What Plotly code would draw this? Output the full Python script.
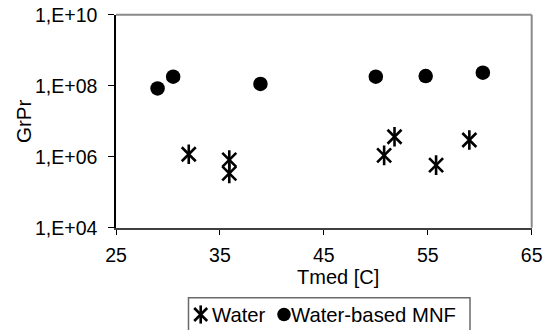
import plotly.graph_objects as go

# Mean temperature [C] and Grashof*Prandtl product for each fluid
water_t = [32.0, 35.9, 35.9, 50.8, 51.8, 55.8, 59.0]
water_grpr = [1.17e6, 8.1e5, 3.4e5, 1.09e6, 3.65e6, 5.8e5, 2.95e6]

mnf_t = [29.0, 30.5, 38.9, 50.0, 54.8, 60.3]
mnf_grpr = [8.4e7, 1.8e8, 1.12e8, 1.8e8, 1.87e8, 2.32e8]

y_tickvals = [1e4, 1e6, 1e8, 1e10]
y_ticktext = ["1,E+04", "1,E+06", "1,E+08", "1,E+10"]
x_tickvals = [25, 35, 45, 55, 65]

series_names = ["Water", "Water-based MNF"]

W, H = 547, 330
FONT = "Liberation Sans, Arial, sans-serif"

# plot-area box in pixels
PL, PR, PT, PB = 116, 531.7, 14.7, 227.7

fig = go.Figure()

star_line = dict(color="black", width=2.6)
STAR = 14
# star marker = X + vertical bar
fig.add_trace(go.Scatter(x=water_t, y=water_grpr, mode="markers", showlegend=False,
                         marker=dict(symbol="x-thin-open", size=STAR, line=star_line, color="black")))
fig.add_trace(go.Scatter(x=water_t, y=water_grpr, mode="markers", showlegend=False,
                         marker=dict(symbol="line-ns-open", size=STAR, line=star_line, color="black")))
fig.add_trace(go.Scatter(x=mnf_t, y=mnf_grpr, mode="markers", showlegend=False,
                         marker=dict(symbol="circle", size=14.5, color="black", line=dict(width=0))))

# legend keys drawn on a pixel-space overlay axis
fig.add_trace(go.Scatter(x=[200.7], y=[314.5], xaxis="x2", yaxis="y2", mode="markers", showlegend=False,
                         marker=dict(symbol="x-thin-open", size=STAR - 1, line=star_line, color="black")))
fig.add_trace(go.Scatter(x=[200.7], y=[314.5], xaxis="x2", yaxis="y2", mode="markers", showlegend=False,
                         marker=dict(symbol="line-ns-open", size=STAR - 1, line=star_line, color="black")))
fig.add_trace(go.Scatter(x=[284], y=[314.5], xaxis="x2", yaxis="y2", mode="markers", showlegend=False,
                         marker=dict(symbol="circle", size=13.5, color="black", line=dict(width=0))))

tick_font = dict(family=FONT, size=19.5, color="black")

fig.update_layout(
    width=W, height=H,
    margin=dict(l=0, r=0, t=0, b=0, autoexpand=False),
    paper_bgcolor="white", plot_bgcolor="rgba(0,0,0,0)",
    showlegend=False,
    xaxis=dict(
        domain=[PL / W, PR / W], range=[25, 65], tickvals=x_tickvals, anchor="y",
        ticks="outside", ticklen=5, tickwidth=1, tickcolor="black",
        showline=True, linecolor="#404040", linewidth=2,
        showgrid=False, zeroline=False, tickfont=tick_font,
        ticklabelstandoff=4, automargin=False,
    ),
    yaxis=dict(
        domain=[1 - PB / H, 1 - PT / H], type="log", range=[4, 10], anchor="x",
        tickvals=y_tickvals, ticktext=y_ticktext,
        ticks="outside", ticklen=6, tickwidth=1, tickcolor="black",
        showline=True, linecolor="black", linewidth=1.5,
        showgrid=False, zeroline=False, tickfont=tick_font,
        ticklabelstandoff=7, automargin=False,
    ),
    xaxis2=dict(domain=[0, 1], range=[0, W], visible=False, fixedrange=True, anchor="y2"),
    yaxis2=dict(domain=[0, 1], range=[H, 0], visible=False, fixedrange=True, anchor="x2"),
)

# plot-area border (top and right edges in grey)
fig.add_shape(type="line", xref="paper", yref="paper",
              x0=PL / W, x1=PR / W, y0=1 - PT / H, y1=1 - PT / H,
              line=dict(color="#8a8a8a", width=2))
fig.add_shape(type="line", xref="paper", yref="paper",
              x0=PR / W, x1=PR / W, y0=1 - PT / H, y1=1 - PB / H,
              line=dict(color="#8a8a8a", width=2))

# legend box
fig.add_shape(type="rect", xref="paper", yref="paper",
              x0=188.5 / W, x1=470 / W, y0=1 - 297.7 / H, y1=-0.05,
              line=dict(color="#6a6a6a", width=1.5), fillcolor="rgba(0,0,0,0)")

annotations = [
    dict(text="Tmed [C]", x=338 / W, y=1 - 277 / H, xref="paper", yref="paper",
         xanchor="center", yanchor="middle", showarrow=False,
         font=dict(family=FONT, size=20, color="black")),
    dict(text="GrPr", x=24 / W, y=1 - 122 / H, xref="paper", yref="paper",
         xanchor="center", yanchor="middle", showarrow=False, textangle=-90,
         font=dict(family=FONT, size=20.5, color="black")),
    dict(text=series_names[0], x=210 / W, y=1 - 314.5 / H, xref="paper", yref="paper",
         xanchor="left", yanchor="middle", showarrow=False,
         font=dict(family=FONT, size=20.3, color="black")),
    dict(text=series_names[1], x=289 / W, y=1 - 314.5 / H, xref="paper", yref="paper",
         xanchor="left", yanchor="middle", showarrow=False,
         font=dict(family=FONT, size=20.3, color="black")),
]
fig.update_layout(annotations=annotations)

fig.write_html("out.html")
